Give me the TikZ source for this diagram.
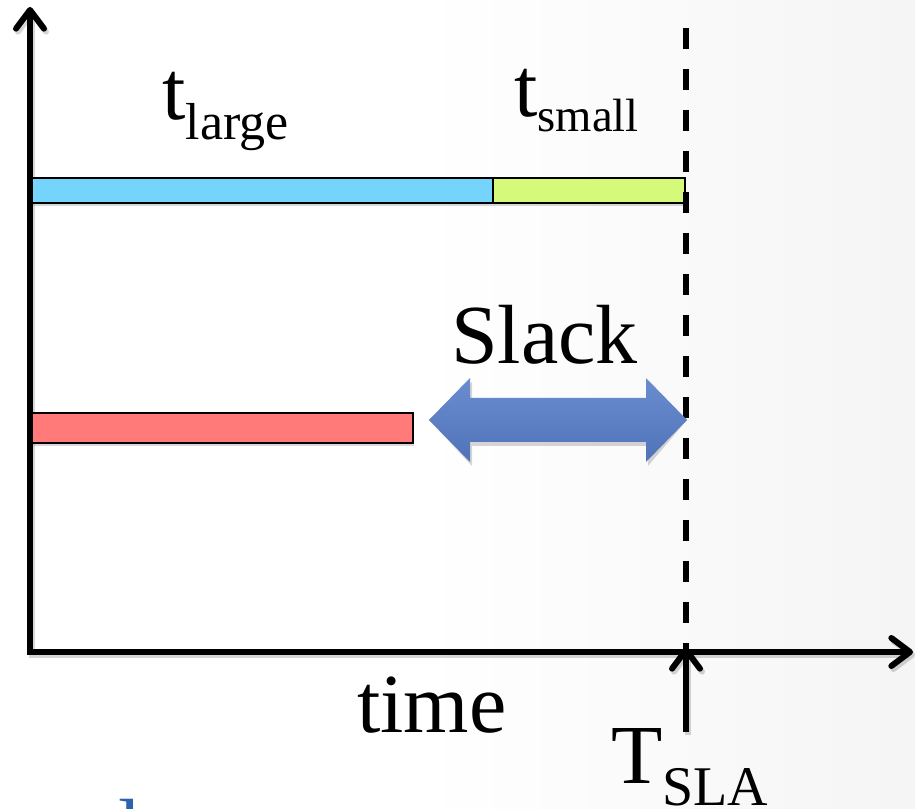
\documentclass[tikz,border=0pt]{standalone}
\usepackage{fontspec}
\setmainfont{Liberation Serif}
\usetikzlibrary{arrows.meta,fit,shadows}
\definecolor{barblue}{HTML}{74D4FC}
\definecolor{bargreen}{HTML}{D5FA7A}
\definecolor{barred}{HTML}{FF7A78}
\definecolor{slacktop}{HTML}{6A8DD0}
\definecolor{slackbot}{HTML}{5072B8}
\definecolor{cutblue}{HTML}{2F62AE}
\begin{document}
\begin{tikzpicture}[x=0.75pt,y=-0.75pt,
  >={Straight Barb[round,length=14pt,width=21pt]},
  axis/.style={line width=4.5pt, line join=miter},
  axshadow/.style={line width=4.5pt, line join=miter, black, opacity=0.16},
  sla/.style={line width=4.5pt, dash pattern=on 15.75pt off 15pt},
  bar/.style={draw=black, line width=2pt, inner sep=0pt,
    drop shadow={shadow xshift=1pt, shadow yshift=-2.5pt, opacity=0.3}},
  big/.style={font=\fontsize{63}{63}\selectfont, inner sep=0pt},
]
\useasboundingbox (0,0) rectangle (915,809);
% slide background with a faint grey fade to the right
\fill[white] (0,0) rectangle (915,809);
\shade[left color=white, right color=black!4] (420,0) rectangle (915,809);

% key points of the chart
\coordinate (ytip) at (30,7);
\coordinate (O) at (30,652);
\coordinate (xtip) at (913,652);
\coordinate (dtop) at (686,28);
\coordinate (dbot) at (686,652);
\coordinate (slabot) at (686,732);
\coordinate (slatip) at (686,647);

% soft shadows under the axes
\draw[axshadow, <->] ([shift={(2,3)}]ytip) -- ([shift={(2,3)}]O) -- ([shift={(2,3)}]xtip);
\draw[axshadow, ->] ([shift={(2,3)}]slabot) -- ([shift={(2,3)}]slatip);

% bars
\node[bar, fill=barblue, fit={(32,178) (493,203)}] (large) {};
\node[bar, fill=bargreen, fit={(493,178) (685,203)}] (small) {};
\node[bar, fill=barred, fit={(32,413) (413,443)}] (actual) {};

% deadline
\draw[sla] (dtop) -- (dbot);

% axes
\draw[axis, <->] (ytip) -- (O) -- (xtip);
\draw[axis, ->] (slabot) -- (slatip);

% slack double arrow
\coordinate (sl) at (429,420);
\coordinate (sr) at (687,420);
\fill[black, opacity=0.16, shift={(2,4)}]
  (sl) -- (470,378) -- (470,398) -- (646,398) -- (646,378) -- (sr)
  -- (646,462) -- (646,442) -- (470,442) -- (470,462) -- cycle;
\shade[top color=slacktop, bottom color=slackbot]
  (sl) -- (470,378) -- (470,398) -- (646,398) -- (646,378) -- (sr)
  -- (646,462) -- (646,442) -- (470,442) -- (470,462) -- cycle;

% labels
\node[big, anchor=base west] (tlarge) at (162,120)
  {t\raisebox{-15pt}{\fontsize{39}{39}\selectfont large}};
\node[big, anchor=base west] (tsmall) at (514,117)
  {t\raisebox{-11.25pt}{\fontsize{35}{35}\selectfont small}};
\node[big, anchor=base west] (slack) at (451,364) {Slack};
\node[big, anchor=base west] (time) at (357,732) {time};
\node[big, anchor=base west] (tsla) at (611,783)
  {T\raisebox{-16.5pt}{\fontsize{42}{42}\selectfont SLA}};
\node[big, anchor=base west, text=cutblue] (next) at (118,857) {l};
\end{tikzpicture}
\end{document}
